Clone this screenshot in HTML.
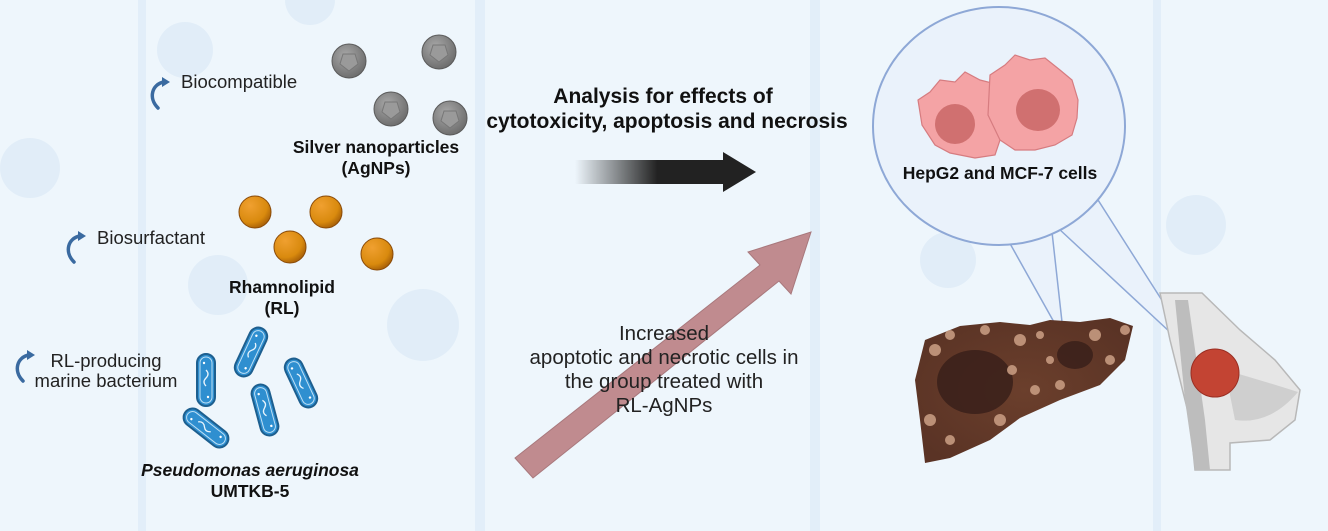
<!DOCTYPE html>
<html><head><meta charset="utf-8"><style>
html,body{margin:0;padding:0;background:#eef6fc;}
svg{display:block;font-family:"Liberation Sans",Arial,sans-serif;}
</style></head><body>
<svg width="1328" height="531" viewBox="0 0 1328 531" xmlns="http://www.w3.org/2000/svg">
<defs>
<linearGradient id="bk" x1="0" x2="1"><stop offset="0" stop-color="#222" stop-opacity="0"/><stop offset="0.55" stop-color="#222"/></linearGradient>
<radialGradient id="or" cx="0.35" cy="0.3" r="0.75"><stop offset="0" stop-color="#f0a030"/><stop offset="0.7" stop-color="#d98a0e"/><stop offset="1" stop-color="#a55e08"/></radialGradient>
<radialGradient id="gr" cx="0.4" cy="0.35" r="0.7"><stop offset="0" stop-color="#a8a8a8"/><stop offset="1" stop-color="#6a6a6a"/></radialGradient>
<radialGradient id="lv" cx="0.5" cy="0.5" r="0.6"><stop offset="0" stop-color="#6b3f2c"/><stop offset="1" stop-color="#5a3325"/></radialGradient>
<g id="arr"><path d="M10 32 C0 22 4 8 16 6" fill="none" stroke="#3a6aa0" stroke-width="3.5" stroke-linecap="round"/><path d="M14 1 L22 6 L14 11 Z" fill="#3a6aa0"/></g>
<g id="bac"><rect x="-9" y="-26" width="18" height="52" rx="9" fill="#2f8fd0" stroke="#1d5f8f" stroke-width="2"/><rect x="-6" y="-23" width="12" height="46" rx="6" fill="none" stroke="#bfe0f5" stroke-width="1"/><path d="M0 -10 q4 4 0 8 q-4 4 0 8" fill="none" stroke="#e8f4fc" stroke-width="1.3"/><circle cx="-2" cy="-17" r="1.2" fill="#fff"/><circle cx="2" cy="17" r="1.2" fill="#fff"/></g>
<g id="poly"><circle r="17" fill="url(#gr)" stroke="#5a5a5a" stroke-width="1"/><polygon points="-6,-7 6,-7 9,3 0,10 -9,3" fill="#9a9a9a" stroke="#777" stroke-width="1"/></g>
</defs>
<g fill="#e2eef9">
<rect x="138" y="0" width="8" height="531"/><rect x="475" y="0" width="10" height="531"/><rect x="810" y="0" width="10" height="531"/><rect x="1153" y="0" width="8" height="531"/>
</g>
<g fill="#dce9f6" opacity="0.7">
<circle cx="30" cy="168" r="30"/><circle cx="218" cy="285" r="30"/><circle cx="423" cy="325" r="36"/><circle cx="948" cy="260" r="28"/><circle cx="1196" cy="225" r="30"/><circle cx="185" cy="50" r="28"/><circle cx="310" cy="0" r="25"/>
</g>
<use href="#arr" x="148" y="76"/>
<text x="181" y="88" font-size="18.5" fill="#222">Biocompatible</text>
<use href="#arr" x="64" y="230"/>
<text x="97" y="244" font-size="18.5" fill="#222">Biosurfactant</text>
<use href="#arr" x="13" y="349"/>
<text x="106" y="367" font-size="18.5" fill="#222" text-anchor="middle">RL-producing</text>
<text x="106" y="387" font-size="18.5" fill="#222" text-anchor="middle">marine bacterium</text>
<use href="#poly" x="349" y="61"/><use href="#poly" x="439" y="52"/><use href="#poly" x="391" y="109"/><use href="#poly" x="450" y="118"/>
<text x="376" y="153" font-size="17.5" font-weight="bold" fill="#111" text-anchor="middle">Silver nanoparticles</text>
<text x="376" y="174" font-size="17.5" font-weight="bold" fill="#111" text-anchor="middle">(AgNPs)</text>
<g stroke="#8a4a08" stroke-width="1"><circle cx="255" cy="212" r="16" fill="url(#or)"/><circle cx="326" cy="212" r="16" fill="url(#or)"/><circle cx="290" cy="247" r="16" fill="url(#or)"/><circle cx="377" cy="254" r="16" fill="url(#or)"/></g>
<text x="282" y="293" font-size="17.5" font-weight="bold" fill="#111" text-anchor="middle">Rhamnolipid</text>
<text x="282" y="314" font-size="17.5" font-weight="bold" fill="#111" text-anchor="middle">(RL)</text>
<use href="#bac" transform="translate(206,380)"/>
<use href="#bac" transform="translate(251,352) rotate(25)"/>
<use href="#bac" transform="translate(301,383) rotate(-25)"/>
<use href="#bac" transform="translate(265,410) rotate(-15)"/>
<use href="#bac" transform="translate(206,428) rotate(-52)"/>
<text x="250" y="476" font-size="17.5" font-weight="bold" font-style="italic" fill="#111" text-anchor="middle">Pseudomonas aeruginosa</text>
<text x="250" y="497" font-size="17.5" font-weight="bold" fill="#111" text-anchor="middle">UMTKB-5</text>
<text x="663" y="103" font-size="21" font-weight="bold" fill="#111" text-anchor="middle">Analysis for effects of</text>
<text x="667" y="128" font-size="21" font-weight="bold" fill="#111" text-anchor="middle">cytotoxicity, apoptosis and necrosis</text>
<rect x="575" y="160" width="150" height="24" fill="url(#bk)"/>
<polygon points="723,152 756,172 723,192" fill="#222"/>
<polygon points="515,458 760,265 748,252 811,232 791,294 779,281 533,478" fill="#c08b8f" stroke="#a8787c" stroke-width="1"/>
<g font-size="20.5" fill="#222" text-anchor="middle">
<text x="664" y="340">Increased</text>
<text x="664" y="364">apoptotic and necrotic cells in</text>
<text x="664" y="388">the group treated with</text>
<text x="664" y="412">RL-AgNPs</text>
</g>
<polygon points="1008,240 1064,340 1052,232" fill="#eaf2fb" stroke="#8ea8d6" stroke-width="1.5"/>
<polygon points="1058,228 1200,360 1098,200" fill="#eaf2fb" stroke="#8ea8d6" stroke-width="1.5"/>
<ellipse cx="999" cy="126" rx="126" ry="119" fill="#eaf2fb" stroke="#8ea8d6" stroke-width="2"/>
<path d="M918 100 L930 92 L940 80 L955 82 L965 72 L980 80 L992 83 L1000 95 L1010 118 L1000 140 L995 155 L975 158 L950 153 L935 145 L922 125 Z" fill="#f4a3a5" stroke="#d67c80" stroke-width="1.2"/>
<path d="M990 75 L1005 65 L1015 55 L1030 60 L1045 58 L1060 70 L1072 80 L1078 100 L1077 118 L1072 135 L1055 145 L1035 150 L1015 150 L1000 140 L988 115 Z" fill="#f4a3a5" stroke="#d67c80" stroke-width="1.2"/>
<ellipse cx="955" cy="124" rx="20" ry="20" fill="#d07070"/>
<ellipse cx="1038" cy="110" rx="22" ry="21" fill="#d07070"/>
<text x="1000" y="179" font-size="17.5" font-weight="bold" fill="#111" text-anchor="middle">HepG2 and MCF-7 cells</text>
<path d="M925 340 L960 326 L1000 322 L1030 325 L1050 320 L1080 322 L1110 318 L1133 326 L1125 360 L1100 385 L1060 400 L1020 418 L990 440 L950 458 L925 463 L920 420 L915 380 Z" fill="url(#lv)"/>
<ellipse cx="975" cy="382" rx="38" ry="32" fill="#3a201a" opacity="0.85"/>
<ellipse cx="1075" cy="355" rx="18" ry="14" fill="#3a201a" opacity="0.85"/>
<g fill="#c69a80" opacity="0.9">
<circle cx="935" cy="350" r="6"/><circle cx="950" cy="335" r="5"/><circle cx="1020" cy="340" r="6"/><circle cx="1012" cy="370" r="5"/><circle cx="1035" cy="390" r="5"/><circle cx="1095" cy="335" r="6"/><circle cx="1110" cy="360" r="5"/><circle cx="1050" cy="360" r="4"/><circle cx="930" cy="420" r="6"/><circle cx="950" cy="440" r="5"/><circle cx="1000" cy="420" r="6"/><circle cx="1060" cy="385" r="5"/><circle cx="1125" cy="330" r="5"/><circle cx="985" cy="330" r="5"/><circle cx="1040" cy="335" r="4"/>
</g>
<path d="M1160 293 L1202 293 L1240 330 L1275 360 L1300 390 L1295 420 L1270 440 L1230 443 L1230 470 L1195 470 L1190 420 L1180 380 L1170 340 Z" fill="#e6e6e6" stroke="#b8b8b8" stroke-width="1.5"/>
<path d="M1175 300 L1188 300 L1205 420 L1210 470 L1195 470 L1185 400 Z" fill="#bdbdbd"/>
<path d="M1225 370 Q1260 380 1298 392 Q1270 425 1235 420 Z" fill="#cfcfcf"/>
<circle cx="1215" cy="373" r="24" fill="#c34433" stroke="#9a2e22" stroke-width="1"/>
</svg>
</body></html>
